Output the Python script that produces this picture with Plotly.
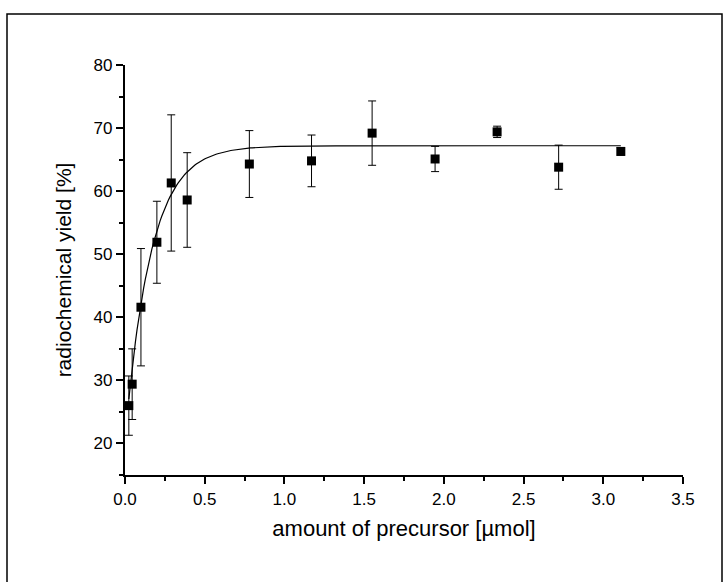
import numpy as np
import plotly.graph_objects as go

# Measured radiochemical yield vs. amount of precursor
precursor_umol = [0.024, 0.045, 0.10, 0.20, 0.29, 0.39, 0.78, 1.17, 1.55, 1.945, 2.334, 2.72, 3.11]
yield_pct = [26.0, 29.4, 41.6, 51.9, 61.3, 58.6, 64.3, 64.8, 69.2, 65.1, 69.4, 63.8, 66.3]
yield_err = [4.7, 5.6, 9.3, 6.5, 10.8, 7.5, 5.3, 4.1, 5.1, 2.0, 0.9, 3.5, 0.6]

# Exponential saturation fit: y = plateau - amp * exp(-rate * x)
fit_plateau = 67.2
fit_amp = 46.6
fit_rate = 6.2

x_fit = np.linspace(min(precursor_umol), max(precursor_umol), 300)
y_fit = fit_plateau - fit_amp * np.exp(-fit_rate * x_fit)

x_ticks = [0.0, 0.5, 1.0, 1.5, 2.0, 2.5, 3.0, 3.5]
x_ticklabels = ["0.0", "0.5", "1.0", "1.5", "2.0", "2.5", "3.0", "3.5"]
y_ticks = [20, 30, 40, 50, 60, 70, 80]

FONT = "Liberation Sans Narrow, Arial Narrow, Liberation Sans, Arial, sans-serif"

fig = go.Figure()

fig.add_trace(go.Scatter(
    x=x_fit, y=y_fit, mode="lines",
    line=dict(color="black", width=1.2),
    hoverinfo="skip", showlegend=False,
))

fig.add_trace(go.Scatter(
    x=precursor_umol, y=yield_pct, mode="markers",
    marker=dict(symbol="square", size=9, color="black"),
    error_y=dict(type="data", array=yield_err, visible=True,
                 color="black", thickness=1, width=4),
    showlegend=False,
))

fig.update_xaxes(
    range=[0, 3.5], tickvals=x_ticks, ticktext=x_ticklabels,
    showline=True, linecolor="black", linewidth=2.2, mirror=False,
    ticks="outside", ticklen=7, tickwidth=2, tickcolor="black",
    minor=dict(ticks="outside", ticklen=4, tickwidth=1.5, tickcolor="black", dtick=0.25, tick0=0),
    showgrid=False, zeroline=False,
    tickfont=dict(family=FONT, size=17, color="black"),
    title=dict(text="amount of precursor [µmol]", standoff=13,
               font=dict(family=FONT, size=22, color="black")),
)
fig.update_yaxes(
    range=[15, 80], tickvals=y_ticks,
    showline=True, linecolor="black", linewidth=2.2, mirror=False,
    ticks="outside", ticklen=7, tickwidth=2, tickcolor="black",
    minor=dict(ticks="outside", ticklen=4, tickwidth=1.5, tickcolor="black", dtick=5, tick0=0),
    showgrid=False, zeroline=False,
    tickfont=dict(family=FONT, size=17, color="black"),
    title=dict(text="radiochemical yield [%]", standoff=16,
               font=dict(family=FONT, size=21, color="black")),
)

# Outer frame around the figure
fig.add_shape(type="rect", xref="paper", yref="paper",
              x0=-118 / 558, x1=597 / 558, y0=-0.5, y1=(475 - 14) / 410,
              line=dict(color="black", width=1.5), layer="above")

fig.update_layout(
    width=727, height=582,
    margin=dict(l=125, r=44, t=65, b=107),
    paper_bgcolor="white", plot_bgcolor="white",
)

fig.write_html("out.html")
